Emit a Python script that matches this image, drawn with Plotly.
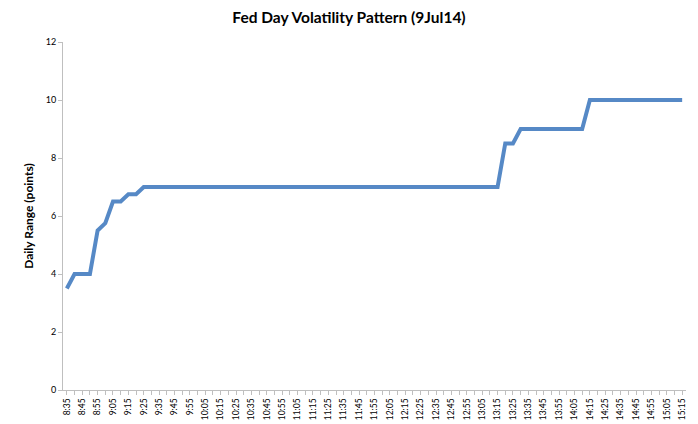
import plotly.graph_objects as go

times = [
    "8:35", "8:40", "8:45", "8:50", "8:55", "9:00", "9:05", "9:10", "9:15", "9:20",
    "9:25", "9:30", "9:35", "9:40", "9:45", "9:50", "9:55", "10:00", "10:05", "10:10",
    "10:15", "10:20", "10:25", "10:30", "10:35", "10:40", "10:45", "10:50", "10:55", "11:00",
    "11:05", "11:10", "11:15", "11:20", "11:25", "11:30", "11:35", "11:40", "11:45", "11:50",
    "11:55", "12:00", "12:05", "12:10", "12:15", "12:20", "12:25", "12:30", "12:35", "12:40",
    "12:45", "12:50", "12:55", "13:00", "13:05", "13:10", "13:15", "13:20", "13:25", "13:30",
    "13:35", "13:40", "13:45", "13:50", "13:55", "14:00", "14:05", "14:10", "14:15", "14:20",
    "14:25", "14:30", "14:35", "14:40", "14:45", "14:50", "14:55", "15:00", "15:05", "15:10",
    "15:15",
]

daily_range = [
    3.5, 4, 4, 4, 5.5, 5.75, 6.5, 6.5, 6.75, 6.75,
    7, 7, 7, 7, 7, 7, 7, 7, 7, 7,
    7, 7, 7, 7, 7, 7, 7, 7, 7, 7,
    7, 7, 7, 7, 7, 7, 7, 7, 7, 7,
    7, 7, 7, 7, 7, 7, 7, 7, 7, 7,
    7, 7, 7, 7, 7, 7, 7, 8.5, 8.5, 9,
    9, 9, 9, 9, 9, 9, 9, 9, 10, 10,
    10, 10, 10, 10, 10, 10, 10, 10, 10, 10,
    10,
]

y_ticks = [0, 2, 4, 6, 8, 10, 12]

FONT = "Lato"
AXIS_COLOR = "#bfbfbf"

# The page body adds an 8px offset; size the figure to fill the rest of the window.
fig = go.Figure()
fig.add_trace(go.Scatter(
    x=times, y=daily_range, mode="lines",
    line=dict(color="#5689c6", width=4),
    hoverinfo="x+y",
))

fig.update_layout(
    width=690, height=416,
    margin=dict(l=55, r=12, t=34, b=34),
    paper_bgcolor="white", plot_bgcolor="white",
    showlegend=False,
    font=dict(family=FONT, color="#000000"),
    title=dict(
        text="<b>Fed Day Volatility Pattern (9Jul14)</b>",
        x=341 / 690, xref="container", xanchor="center",
        y=1 - 10 / 416, yref="container", yanchor="middle",
        font=dict(family=FONT, size=15.5, color="#000000"),
    ),
)

fig.update_xaxes(
    type="category",
    categoryorder="array", categoryarray=times,
    range=[-0.5, len(times) - 0.5],
    tickmode="linear", dtick=1, tick0=0,
    ticklabelstep=2,
    tickangle=-90,
    tickfont=dict(family=FONT, size=8.5, color="#000000"),
    ticks="outside", ticklen=4, tickcolor=AXIS_COLOR, tickwidth=1,
    showline=True, linecolor=AXIS_COLOR, linewidth=1,
    showgrid=False, zeroline=False,
    automargin=False,
)

fig.update_yaxes(
    range=[0, 12],
    tickmode="array", tickvals=y_ticks, ticktext=[str(v) for v in y_ticks],
    tickfont=dict(family=FONT, size=9, color="#000000"),
    ticks="outside", ticklen=4, tickcolor=AXIS_COLOR, tickwidth=1,
    showline=True, linecolor=AXIS_COLOR, linewidth=1,
    showgrid=False, zeroline=False,
    automargin=False,
    title=dict(text="<b>Daily Range (points)</b>",
               font=dict(family=FONT, size=12, color="#000000"), standoff=9),
)

fig.write_html("out.html")
